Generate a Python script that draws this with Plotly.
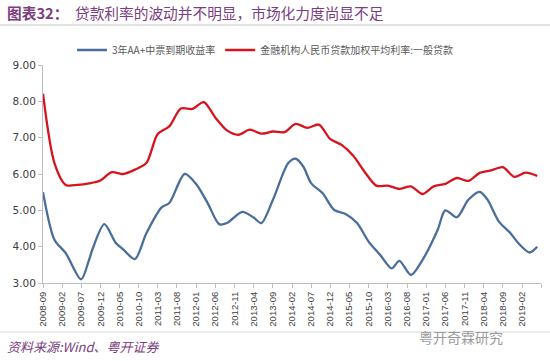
import plotly.graph_objects as go

# ---- data ----
blue_name = "3年AA+中票到期收益率"
red_name = "金融机构人民币贷款加权平均利率:一般贷款"

blue_dates = ["2008-09", "2008-12", "2009-03", "2009-07", "2009-09", "2009-10", "2010-01",
              "2010-04", "2010-06", "2010-09", "2010-12", "2011-04", "2011-06", "2011-10",
              "2012-01", "2012-04", "2012-07", "2012-09", "2013-01", "2013-04", "2013-06",
              "2013-09", "2014-01", "2014-03", "2014-05", "2014-07", "2014-10", "2015-01",
              "2015-04", "2015-07", "2015-10", "2016-01", "2016-04", "2016-06", "2016-09",
              "2016-12", "2017-04", "2017-06", "2017-09", "2017-12", "2018-03", "2018-05",
              "2018-08", "2018-11", "2019-01", "2019-04", "2019-06"]
blue_vals = [5.50, 4.19, 3.82, 3.10, 3.63, 3.95, 4.62,
             4.11, 3.92, 3.66, 4.37, 5.08, 5.20, 6.00,
             5.72, 5.20, 4.62, 4.65, 4.96, 4.80, 4.65,
             5.29, 6.30, 6.42, 6.20, 5.75, 5.47, 5.01,
             4.90, 4.65, 4.14, 3.77, 3.40, 3.61, 3.22,
             3.63, 4.46, 5.00, 4.81, 5.29, 5.51, 5.30,
             4.69, 4.37, 4.10, 3.84, 4.00]

red_dates = ["2008-09", "2008-12", "2009-03", "2009-06", "2009-09", "2009-12", "2010-03",
             "2010-06", "2010-09", "2010-12", "2011-03", "2011-06", "2011-09", "2011-12",
             "2012-03", "2012-06", "2012-09", "2012-12", "2013-03", "2013-06", "2013-09",
             "2013-12", "2014-03", "2014-06", "2014-09", "2014-12", "2015-03", "2015-06",
             "2015-09", "2015-12", "2016-03", "2016-06", "2016-09", "2016-12", "2017-03",
             "2017-06", "2017-09", "2017-12", "2018-03", "2018-06", "2018-09", "2018-12",
             "2019-03", "2019-06"]
red_vals = [8.21, 6.30, 5.70, 5.70, 5.74, 5.82, 6.05,
            6.00, 6.12, 6.30, 7.10, 7.31, 7.80, 7.79,
            7.98, 7.55, 7.20, 7.08, 7.22, 7.11, 7.17,
            7.15, 7.38, 7.27, 7.36, 6.96, 6.80, 6.50,
            6.05, 5.68, 5.68, 5.59, 5.66, 5.45, 5.66,
            5.73, 5.89, 5.81, 6.03, 6.10, 6.19, 5.92,
            6.04, 5.95]

x_tick_labels = ["2008-09", "2009-02", "2009-07", "2009-12", "2010-05", "2010-10", "2011-03",
                 "2011-08", "2012-01", "2012-06", "2012-11", "2013-04", "2013-09", "2014-02",
                 "2014-07", "2014-12", "2015-05", "2015-10", "2016-03", "2016-08", "2017-01",
                 "2017-06", "2017-11", "2018-04", "2018-09", "2019-02"]

y_ticks = [3, 4, 5, 6, 7, 8, 9]
y_tick_text = ["3.00", "4.00", "5.00", "6.00", "7.00", "8.00", "9.00"]

title_text = "<b>图表32：</b>  贷款利率的波动并不明显，市场化力度尚显不足"
source_text = "<i>资料来源:Wind、粤开证券</i>"
watermark_text = "粤开奇霖研究"

fig = go.Figure()
fig.add_trace(go.Scatter(x=blue_dates, y=blue_vals, name=blue_name, mode="lines",
                         line=dict(color="#4A6E9A", width=2.3, shape="spline", smoothing=0.8)))
fig.add_trace(go.Scatter(x=red_dates, y=red_vals, name=red_name, mode="lines",
                         line=dict(color="#D7141E", width=2.3, shape="spline", smoothing=0.8)))

axis_col = "#BFBFBF"
fig.update_layout(
    width=550, height=361,
    margin=dict(l=43, r=9, t=65, b=78),
    paper_bgcolor="white", plot_bgcolor="white",
    font=dict(family="Noto Sans CJK SC, sans-serif", color="#404040"),
    showlegend=True,
    legend=dict(orientation="h", x=(265 - 43) / 498, xanchor="center", y=1 + (65 - 50) / 218,
                yanchor="middle", font=dict(size=10, color="#595959"),
                tracegroupgap=0, bgcolor="rgba(0,0,0,0)"),
    xaxis=dict(type="date", range=["2008-09-01", "2019-07-01"],
               tickvals=[d + "-01" for d in x_tick_labels], ticktext=x_tick_labels,
               tickangle=-90, automargin=False,
               minor=dict(ticks="outside", tick0="2008-09-01", dtick="M5", ticklen=4,
                          tickcolor=axis_col, showgrid=False),
               showline=True, linecolor=axis_col, linewidth=1, ticks="outside",
               tickcolor=axis_col, ticklen=4, showgrid=False, zeroline=False,
               tickfont=dict(size=9.5, family="Liberation Sans, Arial, sans-serif", color="#404040")),
    yaxis=dict(range=[3, 9], tickvals=y_ticks, ticktext=y_tick_text, automargin=False,
               showline=True, linecolor=axis_col, linewidth=1, ticks="outside",
               tickcolor=axis_col, ticklen=4, showgrid=False, zeroline=False,
               tickfont=dict(size=10.5, family="DejaVu Sans, sans-serif", color="#404040")),
)

purple = "#7B3D80"
fig.add_annotation(text=title_text, xref="paper", yref="paper", x=-38/498, y=1 + (65 - 12) / 218,
                   xanchor="left", yanchor="middle", showarrow=False,
                   font=dict(size=14.7, color=purple, family="Noto Sans CJK SC"))
fig.add_annotation(text=source_text, xref="paper", yref="paper", x=-38/498, y=-(346 - 283) / 218,
                   xanchor="left", yanchor="middle", showarrow=False,
                   font=dict(size=13, color=purple, family="Noto Sans CJK SC"))
fig.add_annotation(text=watermark_text, xref="paper", yref="paper", x=(505 - 43) / 498, y=-(337 - 283) / 218,
                   xanchor="right", yanchor="middle", showarrow=False,
                   font=dict(size=14, color="#9A9A9A", family="Noto Sans CJK SC"))
# separator lines
fig.add_shape(type="line", xref="paper", yref="paper", x0=-43/498, x1=1 + 9/498,
              y0=1 + (65 - 25) / 218, y1=1 + (65 - 25) / 218, line=dict(color="#D9D9D9", width=1.5))
fig.add_shape(type="line", xref="paper", yref="paper", x0=-43/498, x1=1 + 9/498,
              y0=-(332 - 283) / 218, y1=-(332 - 283) / 218, line=dict(color="#D9D9D9", width=1))

fig.write_html("out.html", config={"displayModeBar": False},
               post_script="document.body.style.margin='0';")
